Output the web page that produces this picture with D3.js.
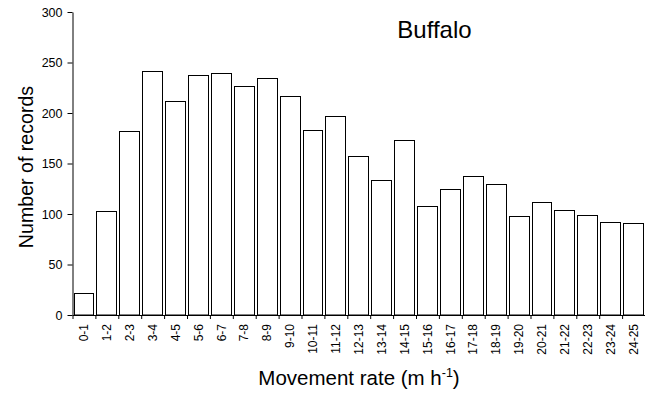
<!DOCTYPE html>
<html>
<head>
<meta charset="utf-8">
<script src="https://cdn.jsdelivr.net/npm/d3@7/dist/d3.min.js"></script>
<style>
  html, body { margin: 0; padding: 0; background: #fff; }
  svg { display: block; font-family: "Liberation Sans", Arial, sans-serif; }
</style>
</head>
<body>
<svg id="chart" width="645" height="394"></svg>
<script>
// Movement-rate bins (m/h) and the number of records in each
const categories = ["0-1","1-2","2-3","3-4","4-5","5-6","6-7","7-8","8-9","9-10",
  "10-11","11-12","12-13","13-14","14-15","15-16","16-17","17-18","18-19","19-20",
  "20-21","21-22","22-23","23-24","24-25"];
const records = [22, 103, 182, 242, 212, 238, 240, 227, 235, 217,
  183, 197, 157, 134, 173, 108, 125, 138, 130, 98,
  112, 104, 99, 92, 91];
const yTicks = [0, 50, 100, 150, 200, 250, 300];

const svg = d3.select("#chart");
const plotLeft = 72.5, plotRight = 645, plotTop = 12, plotBottom = 315;

const x = d3.scaleBand().domain(categories).range([plotLeft, plotRight]).padding(0);
const xEdge = d3.scaleLinear().domain([0, categories.length]).range([plotLeft, plotRight]);
const y = d3.scaleLinear().domain([0, 300]).range([plotBottom, plotTop]);

// bars
svg.append("g")
  .selectAll("rect")
  .data(categories)
  .join("rect")
  .attr("x", d => Math.round(x(d)) + 1.5)
  .attr("y", (d, i) => Math.round(y(records[i])) + 0.5)
  .attr("width", d => Math.round(x(d) + x.bandwidth()) - Math.round(x(d)) - 3)
  .attr("height", (d, i) => plotBottom - Math.round(y(records[i])) - 0.5)
  .attr("fill", "#fff")
  .attr("stroke", "#000")
  .attr("stroke-width", 1);

// y axis
const yAxis = svg.append("g")
  .attr("transform", `translate(${plotLeft},0)`)
  .call(d3.axisLeft(y).tickValues(yTicks).tickSize(5).tickSizeOuter(0).tickPadding(5));
yAxis.selectAll("text").attr("font-size", 12.5).attr("fill", "#000")
  .attr("font-family", "'Liberation Sans', Arial, sans-serif");
yAxis.selectAll("line, path").attr("stroke", "#000");

// x axis: ticks at bin edges, labels at bin centres
const xAxis = svg.append("g")
  .attr("transform", `translate(0,${plotBottom})`)
  .call(d3.axisBottom(xEdge).tickValues(d3.range(0, categories.length + 1))
    .tickSize(4).tickSizeOuter(0).tickFormat(""));
xAxis.selectAll("line, path").attr("stroke", "#000");

svg.append("g")
  .selectAll("text")
  .data(categories)
  .join("text")
  .attr("transform", d => `translate(${x(d) + x.bandwidth() / 2},324) rotate(-90)`)
  .attr("text-anchor", "end")
  .attr("dy", "0.35em")
  .attr("font-size", 12)
  .attr("fill", "#000")
  .text(d => d);

// title
svg.append("text")
  .attr("x", 434.5).attr("y", 37.5)
  .attr("text-anchor", "middle")
  .attr("font-size", 24)
  .text("Buffalo");

// y axis title
svg.append("text")
  .attr("transform", "translate(32.5,167) rotate(-90)")
  .attr("text-anchor", "middle")
  .attr("font-size", 19.6)
  .text("Number of records");

// x axis title with superscript
const xt = svg.append("text")
  .attr("x", 359).attr("y", 385)
  .attr("text-anchor", "middle")
  .attr("font-size", 20.5);
xt.append("tspan").text("Movement rate (m h");
xt.append("tspan").attr("font-size", 12.5).attr("dy", -8).text("-1");
xt.append("tspan").attr("dy", 8).text(")");
</script>
</body>
</html>
